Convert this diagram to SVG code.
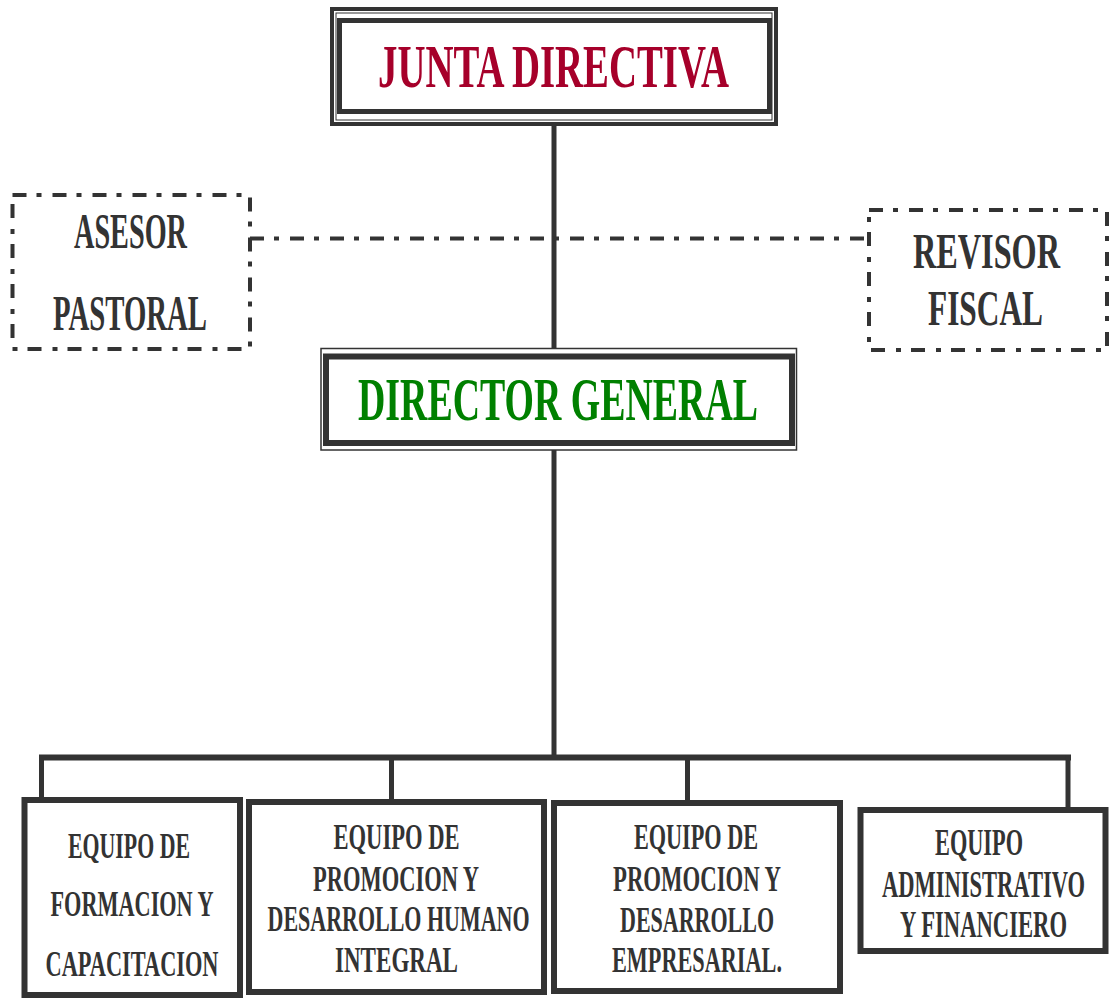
<svg xmlns="http://www.w3.org/2000/svg" width="1110" height="998" viewBox="0 0 1110 998">
<style>
.t{font-family:"Liberation Serif","Times New Roman",serif;font-weight:bold;text-anchor:middle}
.g{fill:#333333}
.big{font-size:61px}
.mid{font-size:50px}
.sm{font-size:36px}
.sm2{font-size:38px}
.box{fill:#ffffff;stroke:#333333;stroke-width:6}
.dd{fill:none;stroke:#333333;stroke-width:4;stroke-dasharray:14 10 5 11}
.ln{fill:none;stroke:#333333;stroke-width:5}
</style>
<rect width="1110" height="998" fill="#ffffff"/>
<g id="connectors">
<line class="ln" x1="554" y1="124" x2="554" y2="352"/>
<line class="ln" x1="554" y1="446" x2="554" y2="758"/>
<path class="dd" d="M250 238.5 H868"/>
<line x1="39" y1="757.5" x2="1071" y2="757.5" stroke="#333333" stroke-width="6"/>
<line class="ln" x1="41.5" y1="755" x2="41.5" y2="798"/>
<line class="ln" x1="391.5" y1="757" x2="391.5" y2="800"/>
<line class="ln" x1="687.5" y1="757" x2="687.5" y2="801"/>
<line class="ln" x1="1068" y1="755" x2="1068" y2="808"/>
</g>
<g id="junta">
<rect x="332" y="9" width="444" height="115" fill="#ffffff" stroke="#333333" stroke-width="4"/>
<rect x="336" y="13" width="436" height="107" fill="none" stroke="#333333" stroke-width="1"/>
<rect x="339.5" y="20.5" width="430" height="91" fill="#ffffff" stroke="#333333" stroke-width="5"/>
<text class="t big" x="553.5" y="87" fill="#A6002A" textLength="351" lengthAdjust="spacingAndGlyphs">JUNTA DIRECTIVA</text>
</g>
<g id="asesor">
<rect class="dd" x="12.5" y="195" width="237.5" height="154" fill="#ffffff"/>
<text class="t mid g" x="130.5" y="248" textLength="113" lengthAdjust="spacingAndGlyphs">ASESOR</text>
<text class="t mid g" x="130" y="330" textLength="154" lengthAdjust="spacingAndGlyphs">PASTORAL</text>
</g>
<g id="revisor">
<rect class="dd" x="869" y="210" width="238" height="140" fill="#ffffff"/>
<text class="t mid g" x="986.5" y="268" textLength="147" lengthAdjust="spacingAndGlyphs">REVISOR</text>
<text class="t mid g" x="985.5" y="325" textLength="115" lengthAdjust="spacingAndGlyphs">FISCAL</text>
</g>
<g id="director">
<rect x="321" y="348.5" width="475.5" height="101.5" fill="#ffffff" stroke="#333333" stroke-width="1.5"/>
<rect x="326" y="356.5" width="466" height="86.5" fill="#ffffff" stroke="#333333" stroke-width="6"/>
<text class="t big" x="558" y="420" fill="#008000" textLength="400" lengthAdjust="spacingAndGlyphs">DIRECTOR GENERAL</text>
</g>
<g id="formacion">
<rect class="box" x="24.5" y="800" width="215.5" height="195"/>
<text class="t sm g" x="129" y="858" textLength="122" lengthAdjust="spacingAndGlyphs">EQUIPO DE</text>
<text class="t sm g" x="132" y="916" textLength="163" lengthAdjust="spacingAndGlyphs">FORMACION Y</text>
<text class="t sm g" x="132" y="976" textLength="173" lengthAdjust="spacingAndGlyphs">CAPACITACION</text>
</g>
<g id="humano">
<rect class="box" x="249" y="802" width="295" height="190"/>
<text class="t sm g" x="396.5" y="849" textLength="126" lengthAdjust="spacingAndGlyphs">EQUIPO DE</text>
<text class="t sm g" x="396" y="891" textLength="166" lengthAdjust="spacingAndGlyphs">PROMOCION Y</text>
<text class="t sm g" x="398.5" y="931" textLength="262" lengthAdjust="spacingAndGlyphs">DESARROLLO HUMANO</text>
<text class="t sm g" x="396.5" y="972" textLength="123" lengthAdjust="spacingAndGlyphs">INTEGRAL</text>
</g>
<g id="empresarial">
<rect class="box" x="554" y="803" width="286" height="188"/>
<text class="t sm g" x="696" y="849" textLength="124" lengthAdjust="spacingAndGlyphs">EQUIPO DE</text>
<text class="t sm g" x="697" y="891" textLength="168" lengthAdjust="spacingAndGlyphs">PROMOCION Y</text>
<text class="t sm g" x="697" y="932" textLength="154" lengthAdjust="spacingAndGlyphs">DESARROLLO</text>
<text class="t sm g" x="697" y="972" textLength="170" lengthAdjust="spacingAndGlyphs">EMPRESARIAL.</text>
</g>
<g id="administrativo">
<rect class="box" x="860.5" y="810" width="245" height="141"/>
<text class="t sm2 g" x="979" y="855" textLength="88" lengthAdjust="spacingAndGlyphs">EQUIPO</text>
<text class="t sm2 g" x="983.5" y="897" textLength="203" lengthAdjust="spacingAndGlyphs">ADMINISTRATIVO</text>
<text class="t sm2 g" x="983.5" y="937" textLength="167" lengthAdjust="spacingAndGlyphs">Y FINANCIERO</text>
</g>
</svg>
